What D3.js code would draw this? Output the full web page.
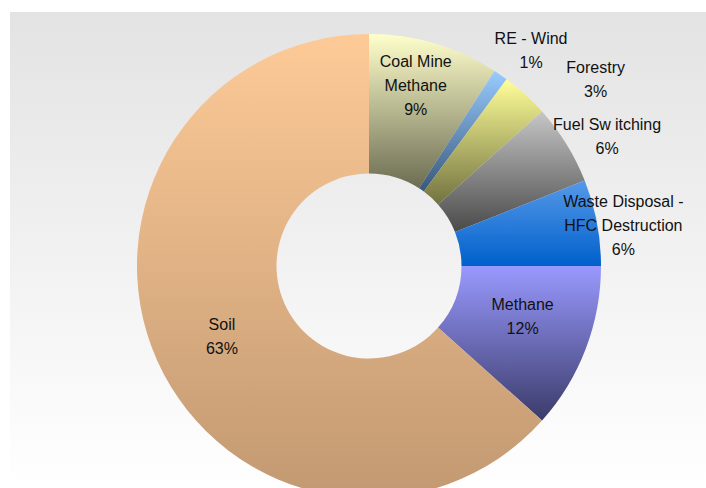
<!DOCTYPE html>
<html>
<head>
<meta charset="utf-8">
<script src="https://cdn.jsdelivr.net/npm/d3@7"></script>
<style>
  body { margin: 0; background: #fff; }
  svg { display: block; }
  text { font-family: "Liberation Sans", Arial, sans-serif; font-size: 16px; fill: #111; }
</style>
</head>
<body>
<svg id="chart"></svg>
<script>
// data
var categories = ["Coal Mine Methane", "RE - Wind", "Forestry", "Fuel Switching",
                  "Waste Disposal - HFC Destruction", "Methane", "Soil"];
var shares = [9.1, 1.0, 3.3, 5.6, 6.0, 11.6, 63.4];
// label lines as shown in the chart
var labelLines = [["Coal Mine", "Methane"], ["RE - Wind"], ["Forestry"], ["Fuel Switching"],
                  ["Waste Disposal -", "HFC Destruction"], ["Methane"], ["Soil"]];

// styles / layout
var topColors    = ["#ffffcc", "#99ccff", "#ffff99", "#c6c6c6", "#5599e8", "#9999ff", "#fdca97"];
var bottomColors = ["#6c6c52", "#39577a", "#727240", "#4a4a4a", "#0060cc", "#3b3b6a", "#c29972"];
var labelInside  = [true, false, false, false, false, true, true];
var labelNudge   = [[1, -25], [14, -1], [51, 7], [16, 8], [-2, 8], [2, -7], [1, 4]];

var width = 706, height = 488;
var cx = 369, cy = 266;
var outerR = 232, innerR = 92.5;
var lineH = 24;

var svg = d3.select("#chart")
    .attr("width", width)
    .attr("height", height);

var defs = svg.append("defs");

// plot area background
var bg = defs.append("linearGradient")
    .attr("id", "bgGrad")
    .attr("x1", 0).attr("y1", 0).attr("x2", 0).attr("y2", 1);
bg.append("stop").attr("offset", 0).attr("stop-color", "#e3e3e3");
bg.append("stop").attr("offset", 1).attr("stop-color", "#ffffff");

svg.append("rect")
    .attr("x", 10).attr("y", 12)
    .attr("width", width - 10).attr("height", height - 12)
    .attr("fill", "url(#bgGrad)");

// slice gradients
categories.forEach(function(c, i) {
  var g = defs.append("linearGradient")
      .attr("id", "slice" + i)
      .attr("x1", 0).attr("y1", 0).attr("x2", 0).attr("y2", 1);
  g.append("stop").attr("offset", 0).attr("stop-color", topColors[i]);
  g.append("stop").attr("offset", 1).attr("stop-color", bottomColors[i]);
});

var data = categories.map(function(c, i) {
  return {name: c, value: shares[i], idx: i};
});
var total = d3.sum(shares);

var pie = d3.pie()
    .sort(null)
    .value(function(d) { return d.value; });

var arc = d3.arc()
    .innerRadius(innerR)
    .outerRadius(outerR);

var labelArc = d3.arc()
    .innerRadius(outerR + 29)
    .outerRadius(outerR + 29);

var g = svg.append("g")
    .attr("transform", "translate(" + cx + "," + cy + ")");

var arcs = pie(data);

g.selectAll("path.slice")
    .data(arcs)
  .enter().append("path")
    .attr("class", "slice")
    .attr("d", arc)
    .attr("fill", function(d) { return "url(#slice" + d.data.idx + ")"; });

// labels
arcs.forEach(function(d) {
  var i = d.data.idx;
  var p = labelInside[i] ? arc.centroid(d) : labelArc.centroid(d);
  var x = p[0] + labelNudge[i][0];
  var yc = p[1] + labelNudge[i][1];
  var lines = labelLines[i].concat([Math.round(d.data.value / total * 100) + "%"]);
  var top = yc - (lines.length - 1) * lineH / 2;

  var t = g.append("text")
      .attr("text-anchor", "middle");
  lines.forEach(function(line, k) {
    var ts = t.append("tspan")
        .attr("x", x)
        .attr("y", top + k * lineH + 5.5);
    if (line === "Fuel Switching") {
      // the original renders a small gap after "Sw"
      ts.text("Fuel Sw");
      t.append("tspan").attr("dx", 4).text("itching");
    } else {
      ts.text(line);
    }
  });
});
</script>
</body>
</html>
